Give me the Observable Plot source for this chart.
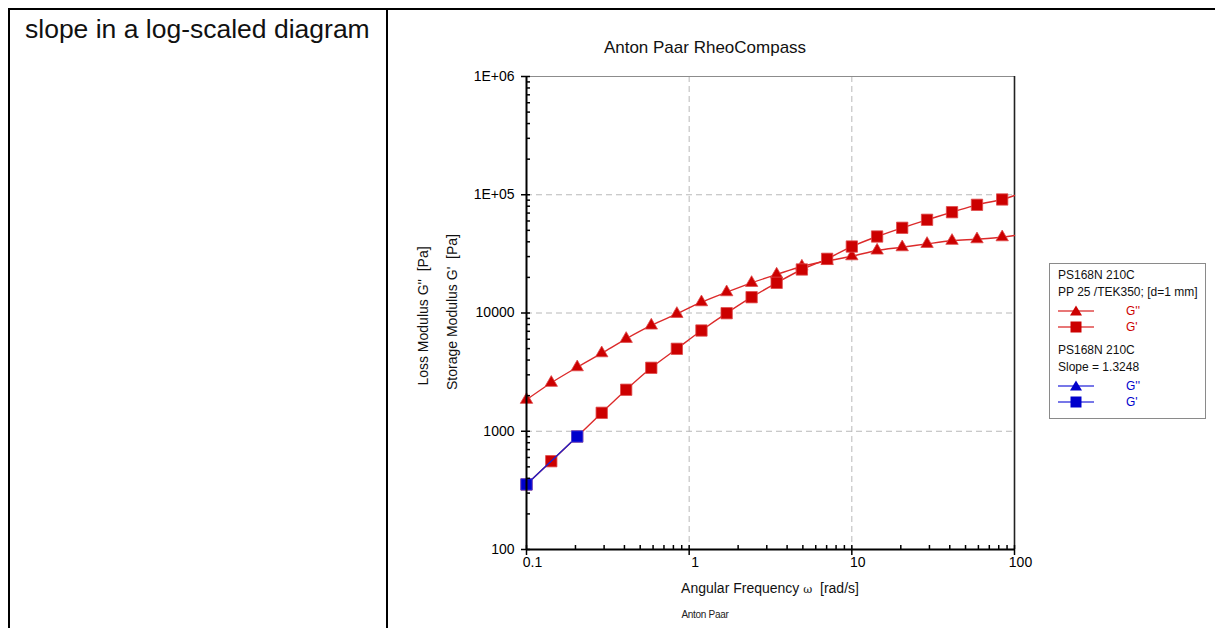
<!DOCTYPE html>
<html>
<head>
<meta charset="utf-8">
<script src="https://cdn.jsdelivr.net/npm/d3@7"></script>
<script src="https://cdn.jsdelivr.net/npm/@observablehq/plot@0.6"></script>
<style>
  body { margin: 0; background: #fff; font-family: "Liberation Sans", Arial, sans-serif; }
  #page { position: relative; width: 1215px; height: 628px; overflow: hidden; background: #fff; }
  .bd { position: absolute; background: #000; }
  #lefttext { position: absolute; left: 25px; top: 16px; font-size: 26.5px; line-height: 26px; color: #111; white-space: nowrap; }
  #chart { position: absolute; left: 0; top: 0; }
  #legend { position: absolute; left: 1049px; top: 263px; width: 157px; height: 156px; border: 1px solid #8a8a8a; box-sizing: border-box; font-size: 12px; color: #111; background: #fff; }
  .lrow { position: absolute; left: 8px; white-space: nowrap; line-height: 14px; }
  .lsym { position: absolute; left: 8px; width: 36px; height: 14px; }
  .llab { position: absolute; left: 76px; line-height: 14px; }
</style>
</head>
<body>
<div id="page">
  <div class="bd" style="left:8px;top:8px;width:1207px;height:2px;"></div>
  <div class="bd" style="left:8px;top:8px;width:2px;height:620px;"></div>
  <div class="bd" style="left:386px;top:8px;width:2px;height:620px;"></div>
  <div id="lefttext">slope in a log-scaled diagram</div>
  <div id="chart"></div>
  <div id="legend"></div>
</div>
<script>
// ---- data ----
const omega = [0.1, 0.142, 0.205, 0.29, 0.41, 0.585, 0.84, 1.19, 1.7, 2.42, 3.45, 4.93, 7.05, 10, 14.3, 20.4, 29, 41.3, 58.8, 84];
const lossModulus = [1845, 2570, 3480, 4570, 6050, 7840, 9840, 12340, 15000, 17990, 21170, 24730, 27540, 30220, 33780, 36020, 38460, 40800, 42070, 43750];
const storageModulus = [355, 558, 903, 1432, 2243, 3440, 4980, 7110, 9960, 13600, 17990, 23330, 28720, 36490, 44350, 52540, 61400, 71200, 82200, 91200];
// fitted curves continue to the right edge of the frame
const curveEndOmega = 100;
const curveEndLoss = 45200;
const curveEndStorage = 98600;
// slope segment (blue)
const slopeOmega = [0.1, 0.205];
const slopeStorage = [355, 903];

const yTicks = [100, 1000, 10000, 100000, 1000000];
const yTickLabels = ["100", "1000", "10000", "1E+05", "1E+06"];
const xTicks = [0.1, 1, 10, 100];
const xTickLabels = ["0.1", "1", "10", "100"];
const yGrid = [1000, 10000, 100000];
const xGrid = [1, 10];

const legendGroups = [
  {lines: ["PS168N 210C", "PP 25 /TEK350; [d=1 mm]"], color: "#cc0000", line: "#e04a4a"},
  {lines: ["PS168N 210C", "Slope = 1.3248"], color: "#0000cc", line: "#4a4ae0"}
];

// minor ticks (axis decoration)
const minorY = [], minorX = [];
for (let e = 2; e < 6; e++) for (let m = 2; m < 10; m++) minorY.push(m * 10 ** e);
for (let e = -1; e < 2; e++) for (let m = 2; m < 10; m++) minorX.push(m * 10 ** e);

const red = "#cc0000", redLine = "#dc2a2a", blue = "#0000cc", blueLine = "#2020c8";

const lossRows = omega.map((w, i) => ({w, v: lossModulus[i]}));
const storRows = omega.map((w, i) => ({w, v: storageModulus[i]}));
const lossCurve = lossRows.concat([{w: curveEndOmega, v: curveEndLoss}]);
const storCurve = storRows.concat([{w: curveEndOmega, v: curveEndStorage}]);
const slopeRows = slopeOmega.map((w, i) => ({w, v: slopeStorage[i]}));

const svg = Plot.plot({
  width: 1215, height: 628,
  marginLeft: 526, marginRight: 201, marginTop: 76, marginBottom: 79,
  style: {background: "transparent", fontFamily: "Liberation Sans, Arial, sans-serif", fontSize: "14px", color: "#000"},
  x: {type: "log", domain: [0.1, 100]},
  y: {type: "log", domain: [100, 1e6]},
  marks: [
    Plot.ruleY(yGrid, {stroke: "#b8b8b8", strokeDasharray: "6,4"}),
    Plot.ruleX(xGrid, {stroke: "#b8b8b8", strokeDasharray: "6,4"}),
    Plot.ruleY([1e6], {stroke: "#8c8c8c", strokeWidth: 1.2}),
    Plot.ruleX([100], {stroke: "#222", strokeWidth: 1.6}),
    Plot.line(lossCurve, {x: "w", y: "v", stroke: redLine, strokeWidth: 1.4, curve: "catmull-rom"}),
    Plot.line(storCurve, {x: "w", y: "v", stroke: redLine, strokeWidth: 1.4, curve: "catmull-rom"}),
    Plot.dot(lossRows, {x: "w", y: "v", symbol: "triangle", r: 4.6, fill: red, stroke: "#e04a4a", strokeWidth: 0.8}),
    Plot.dot(storRows, {x: "w", y: "v", symbol: "square", r: 6.4, fill: red, stroke: "#e04a4a", strokeWidth: 0.8}),
    Plot.line(slopeRows, {x: "w", y: "v", stroke: blueLine, strokeWidth: 1.4}),
    Plot.dot(slopeRows, {x: "w", y: "v", symbol: "square", r: 6.4, fill: blue, stroke: "#4a4ae0", strokeWidth: 0.8}),
    Plot.axisY(minorY, {tickSize: 4, dx: 4, tickFormat: () => "", label: null, strokeWidth: 1.5}),
    Plot.axisY(yTicks, {tickSize: 9, dx: 4, tickFormat: () => "", label: null, strokeWidth: 1.5}),
    Plot.axisY(yTicks, {tickSize: 0, tickPadding: 12, tickFormat: d => yTickLabels[yTicks.indexOf(d)], label: null, fontSize: 14}),
    Plot.axisX(minorX, {tickSize: 4, dy: -4, tickFormat: () => "", label: null, strokeWidth: 1.5}),
    Plot.axisX(xTicks, {tickSize: 10, dy: -4, tickFormat: () => "", label: null, strokeWidth: 1.5}),
    Plot.axisX(xTicks, {tickSize: 0, tickPadding: 8, dx: 6, tickFormat: d => xTickLabels[xTicks.indexOf(d)], label: null, fontSize: 14}),
    Plot.ruleX([0.1], {stroke: "#000", strokeWidth: 2}),
    Plot.ruleY([100], {stroke: "#000", strokeWidth: 2})
  ]
});
document.getElementById("chart").appendChild(svg);

const s = d3.select(svg);
s.append("text").attr("x", 705).attr("y", 53).attr("text-anchor", "middle")
  .attr("font-size", 17).attr("fill", "#111").text("Anton Paar RheoCompass");
const xl = s.append("text").attr("x", 770).attr("y", 593).attr("text-anchor", "middle")
  .attr("font-size", 14).attr("fill", "#111");
xl.append("tspan").text("Angular Frequency ");
xl.append("tspan").attr("font-family", "DejaVu Serif, serif").attr("font-size", 11).text("ω");
xl.append("tspan").attr("xml:space", "preserve").text("  [rad/s]");
s.append("text").attr("transform", "translate(428,316) rotate(-90)").attr("text-anchor", "middle")
  .attr("font-size", 14).attr("fill", "#111").attr("xml:space", "preserve").text("Loss Modulus G''  [Pa]");
s.append("text").attr("transform", "translate(457,312) rotate(-90)").attr("text-anchor", "middle")
  .attr("font-size", 14).attr("fill", "#111").attr("xml:space", "preserve").text("Storage Modulus G'  [Pa]");
s.append("text").attr("x", 705).attr("y", 618).attr("text-anchor", "middle")
  .attr("font-size", 10).attr("letter-spacing", -0.3).attr("fill", "#222").text("Anton Paar");

// legend
const legend = document.getElementById("legend");
const groupTops = [4, 79];
legendGroups.forEach((g, gi) => {
  const t0 = groupTops[gi];
  g.lines.forEach((txt, li) => {
    const d = document.createElement("div");
    d.className = "lrow"; d.style.top = (t0 + li * 17) + "px"; d.textContent = txt;
    legend.appendChild(d);
  });
  [["triangle", "G''"], ["square", "G'"]].forEach(([sym, lab], k) => {
    const top = t0 + 36 + k * 16;
    const ns = "http://www.w3.org/2000/svg";
    const sv = document.createElementNS(ns, "svg");
    sv.setAttribute("class", "lsym"); sv.setAttribute("width", 36); sv.setAttribute("height", 14);
    sv.style.top = top + "px";
    const ln = document.createElementNS(ns, "line");
    ln.setAttribute("x1", 0); ln.setAttribute("x2", 36); ln.setAttribute("y1", 7); ln.setAttribute("y2", 7);
    ln.setAttribute("stroke", g.line); ln.setAttribute("stroke-width", 1.5);
    sv.appendChild(ln);
    const p = document.createElementNS(ns, "path");
    p.setAttribute("d", sym === "triangle" ? "M18,1.5L24,11.5L12,11.5Z" : "M12.5,1.5H23.5V12.5H12.5Z");
    p.setAttribute("fill", g.color);
    sv.appendChild(p);
    legend.appendChild(sv);
    const lb = document.createElement("div");
    lb.className = "llab"; lb.style.top = top + "px"; lb.style.color = g.color; lb.textContent = lab;
    legend.appendChild(lb);
  });
});
</script>
</body>
</html>
